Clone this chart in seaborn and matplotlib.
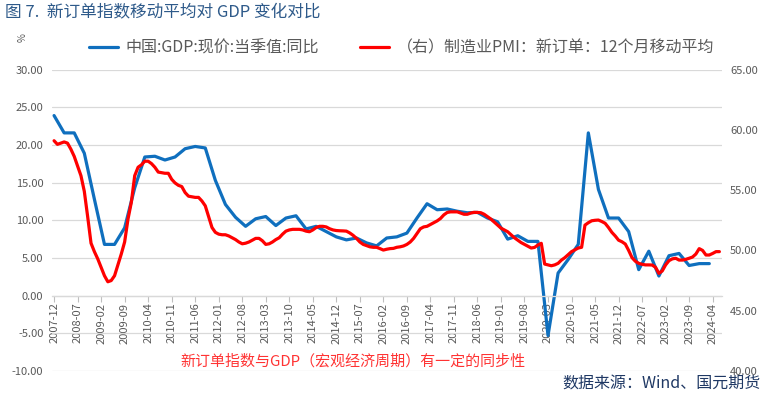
import numpy as np
import pandas as pd
import matplotlib
matplotlib.use("Agg")
import matplotlib.pyplot as plt
import seaborn as sns

# monthly categories 2007-12 .. 2024-06
start = "2007-12"
n_months = 199

# GDP current price yoy (%), quarterly, 2007-12 .. 2024-03
gdp_yoy = [23.9, 21.6, 21.6, 18.9, 12.8, 6.8, 6.8, 9.0, 14.3, 18.4, 18.5, 18.0,
           18.4, 19.5, 19.8, 19.6, 15.3, 12.1, 10.4, 9.2, 10.2, 10.5, 9.3, 10.3,
           10.6, 8.85, 9.2, 8.5, 7.8, 7.4, 7.65, 7.0, 6.6, 7.65, 7.8, 8.3,
           10.3, 12.2, 11.4, 11.5, 11.2, 11.0, 11.05, 10.3, 9.8, 7.5, 7.95, 7.2,
           7.2, -5.3, 3.0, 4.8, 6.8, 21.6, 14.1, 10.3, 10.3, 8.5, 3.45, 5.9,
           2.6, 5.3, 5.6, 4.0, 4.25, 4.25]

# PMI new orders, 12-month moving average, monthly
pmi_ma12 = [59.1, 58.8, 58.9, 59.0, 58.9, 58.4, 57.8, 57.0, 56.2, 54.9,
            52.8, 50.6, 49.9, 49.3, 48.6, 47.9, 47.4, 47.5, 47.9, 48.8,
            49.7, 50.7, 52.6, 54.0, 56.2, 56.9, 57.1, 57.4, 57.4, 57.2,
            56.9, 56.5, 56.45, 56.4, 56.4, 55.9, 55.6, 55.4, 55.3, 54.8,
            54.5, 54.45, 54.4, 54.4, 54.1, 53.7, 52.8, 51.9, 51.5, 51.35,
            51.3, 51.3, 51.2, 51.05, 50.9, 50.7, 50.55, 50.6, 50.7, 50.85,
            51.0, 51.0, 50.8, 50.5, 50.55, 50.7, 50.9, 51.05, 51.35, 51.6,
            51.7, 51.75, 51.75, 51.75, 51.7, 51.6, 51.55, 51.7, 51.9, 52.0,
            52.0, 51.95, 51.8, 51.7, 51.65, 51.63, 51.62, 51.6, 51.45, 51.25,
            51.0, 50.7, 50.5, 50.4, 50.3, 50.26, 50.26, 50.15, 50.03, 50.1,
            50.15, 50.17, 50.26, 50.3, 50.37, 50.5, 50.7, 51.0, 51.4, 51.8,
            51.95, 52.0, 52.15, 52.3, 52.45, 52.65, 52.95, 53.15, 53.2, 53.2,
            53.2, 53.1, 53.0, 53.0, 53.1, 53.16, 53.15, 53.13, 53.0, 52.8,
            52.6, 52.35, 52.1, 51.85, 51.7, 51.55, 51.3, 51.05, 50.85, 50.65,
            50.5, 50.35, 50.2, 50.25, 50.45, 50.59, 48.87, 48.8, 48.73, 48.8,
            48.93, 49.2, 49.4, 49.65, 49.9, 50.05, 50.2, 50.26, 52.1, 52.3,
            52.46, 52.5, 52.52, 52.4, 52.25, 51.9, 51.5, 51.2, 50.85, 50.72,
            50.53, 50.0, 49.4, 49.1, 48.93, 48.85, 48.8, 48.8, 48.79, 48.6,
            48.1, 48.3, 48.8, 49.15, 49.3, 49.35, 49.2, 49.2, 49.26, 49.35,
            49.45, 49.7, 50.15, 50.0, 49.62, 49.62, 49.75, 49.9, 49.9]

tick_labels = ["2007-12", "2008-07", "2009-02", "2009-09", "2010-04", "2010-11",
               "2011-06", "2012-01", "2012-08", "2013-03", "2013-10", "2014-05",
               "2014-12", "2015-07", "2016-02", "2016-09", "2017-04", "2017-11",
               "2018-06", "2019-01", "2019-08", "2020-03", "2020-10", "2021-05",
               "2021-12", "2022-07", "2023-02", "2023-09", "2024-04"]

months = pd.period_range(start, periods=n_months, freq="M")
month_pos = {str(p): i for i, p in enumerate(months)}

df_pmi = pd.DataFrame({"pos": np.arange(n_months), "pmi": pmi_ma12})
gdp_months = pd.period_range(start, periods=len(gdp_yoy), freq="3M")
df_gdp = pd.DataFrame({"pos": [month_pos[str(p)] for p in gdp_months], "gdp": gdp_yoy})

sns.set_theme(style="white")
plt.rcParams["font.family"] = ["Noto Sans CJK SC", "DejaVu Sans"]

grey = "#595959"
blue = "#0F6FBE"
red = "#FF0000"

fig = plt.figure(figsize=(7.8, 3.95), dpi=100)
ax = fig.add_axes([0.0663, 0.0608, 0.859, 0.763])
ax2 = ax.twinx()

sns.lineplot(data=df_gdp, x="pos", y="gdp", ax=ax, color=blue, lw=2.3,
             label="中国:GDP:现价:当季值:同比", legend=False)
sns.lineplot(data=df_pmi, x="pos", y="pmi", ax=ax2, color=red, lw=2.3,
             label="（右）制造业PMI：新订单：12个月移动平均", legend=False)

ax.set_xlim(-0.7, 198.7)
ax.set_ylim(-10, 30)
ax2.set_ylim(40, 65)
ax.set_yticks(np.arange(-10, 31, 5))
ax2.set_yticks(np.arange(40, 66, 5))
ax.set_yticklabels([f"{v:.2f}" for v in np.arange(-10, 31, 5)])
ax2.set_yticklabels([f"{v:.2f}" for v in np.arange(40, 66, 5)])

ax.set_xticks([month_pos[t] for t in tick_labels])
ax.set_xticklabels(tick_labels)

ax.set_xlabel("")
ax.set_ylabel("")
ax2.set_ylabel("")
ax2.set_xlabel("")

ax.yaxis.grid(True, color="#D9D9D9", lw=0.9)
ax.set_axisbelow(True)
for a in (ax, ax2):
    for s in ("left", "right", "top"):
        a.spines[s].set_visible(False)
ax2.spines["bottom"].set_visible(False)
ax.spines["bottom"].set_position(("data", 0))
ax.spines["bottom"].set_color("#D9D9D9")
ax.spines["bottom"].set_linewidth(0.9)

ax.tick_params(axis="x", direction="out", length=4, width=0.8, color="#BFBFBF",
               labelsize=8, labelcolor=grey, pad=1, bottom=True, labelrotation=90)
ax.tick_params(axis="y", length=0, labelsize=8, labelcolor=grey, pad=6)
ax2.tick_params(axis="y", length=0, labelsize=8, labelcolor=grey, pad=6)
for lbl in ax.get_xticklabels():
    lbl.set_rotation(90)
    lbl.set_va("top")
    lbl.set_ha("center")

h1, l1 = ax.get_legend_handles_labels()
h2, l2 = ax2.get_legend_handles_labels()
fig.legend(h1 + h2, l1 + l2, loc="center", bbox_to_anchor=(0.515, 0.878), ncol=2,
           frameon=False, fontsize=11.5, handlelength=1.8, columnspacing=2.6,
           handletextpad=0.45, labelcolor=grey)

fig.text(0.006, 0.968, "图 7.  新订单指数移动平均对 GDP 变化对比", fontsize=12,
         color="#2E5A8A", va="center", ha="left")
fig.text(0.029, 0.905, "%", fontsize=7, color=grey, rotation=90, va="center", ha="center")
fig.text(0.231, 0.086, "新订单指数与GDP（宏观经济周期）有一定的同步性", fontsize=10.8,
         color="#FF3333", va="center", ha="left")
fig.text(0.975, 0.027, "数据来源：Wind、国元期货", fontsize=11.5, color="#1F3864",
         va="center", ha="right")

fig.savefig("out.png", dpi=100)
